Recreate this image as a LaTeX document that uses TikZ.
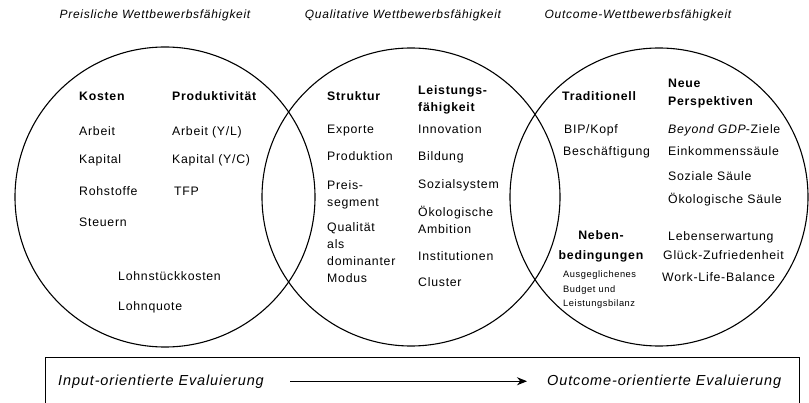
\documentclass[tikz,border=0pt]{standalone}
\usepackage{fontspec}
\setmainfont{Liberation Sans}[LetterSpace=6]
\usetikzlibrary{arrows.meta}

\tikzset{
  ring/.style={draw, line width=1.1pt},
  item/.style={anchor=base west, inner sep=0pt, font=\fontsize{12.3}{17}\selectfont},
  head/.style={item, font=\fontsize{12.3}{17.5}\selectfont\bfseries},
  block/.style={item, anchor=north west, align=left},
  small/.style={item, font=\fontsize{9.3}{14.5}\selectfont},
  title/.style={anchor=base, inner sep=0pt, font=\fontsize{12}{14}\selectfont\itshape},
  evaltext/.style={anchor=base west, inner sep=0pt, font=\fontsize{14.5}{16}\selectfont\itshape},
}

\begin{document}
\begin{tikzpicture}[x=1pt, y=-1pt]
    \useasboundingbox (0,0) rectangle (809,403);

    % circles
    \draw[ring] (165,197) circle [radius=150pt];
    \draw[ring] (411,197) circle [radius=149pt];
    \draw[ring] (659,197) circle [radius=149pt];

    \node (tprice) at (155,19) [title] {Preisliche Wettbewerbsfähigkeit};
    \node (tqual)  at (403,19) [title] {Qualitative Wettbewerbsfähigkeit};
    \node (tout)   at (638,19) [title] {Outcome-Wettbewerbsfähigkeit};

    % price circle
    \node (kosten) at (79,101)  [head] {Kosten};
    \node (prod)   at (172,101) [head] {Produktivität};
    \node (k1) at (79,136) [item] {Arbeit};
    \node (k2) at (79,164) [item] {Kapital};
    \node (k3) at (79,196) [item] {Rohstoffe};
    \node (k4) at (79,227) [item] {Steuern};
    \node (p1) at (172,136) [item] {Arbeit (Y/L)};
    \node (p2) at (172,164) [item] {Kapital (Y/C)};
    \node (p3) at (174,196) [item] {TFP};
    \node (lsk)   at (118,281) [item] {Lohnstückkosten};
    \node (lquot) at (118,311) [item] {Lohnquote};

    % quality circle
    \node (struk) at (327,101) [head] {Struktur};
    \node (leist) at (418,85)  [head, anchor=north west, align=left] {Leistungs-\\fähigkeit};
    \node (s1) at (327,134) [item] {Exporte};
    \node (s2) at (327,161) [item] {Produktion};
    \node (s3) at (327,180) [block] {Preis-\\segment};
    \node (s4) at (327,222) [block] {Qualität\\als\\dominanter\\Modus};
    \node (l1) at (418,134) [item] {Innovation};
    \node (l2) at (418,161) [item] {Bildung};
    \node (l3) at (418,189) [item] {Sozialsystem};
    \node (l4) at (418,206) [block] {Ökologische\\Ambition};
    \node (l5) at (418,261) [item] {Institutionen};
    \node (l6) at (418,287) [item] {Cluster};

    % outcome circle
    \node (trad)  at (562,101) [head] {Traditionell};
    \node (neue)  at (668,79)  [head, anchor=north west, align=left] {Neue\\Perspektiven};
    \node (t1) at (564,134) [item] {BIP/Kopf};
    \node (t2) at (563,156) [item] {Beschäftigung};
    \node (n1) at (668,134) [item] {{\itshape Beyond GDP}-Ziele};
    \node (n2) at (668,156) [item] {Einkommenssäule};
    \node (n3) at (668,181) [item] {Soziale Säule};
    \node (n4) at (668,204) [item] {Ökologische Säule};
    \node (n5) at (668,241) [item] {Lebenserwartung};
    \node (n6) at (663,260) [item] {Glück-Zufriedenheit};
    \node (n7) at (662,282) [item] {Work-Life-Balance};
    \node (neben) at (601,230) [head, anchor=north, align=center, font=\fontsize{12.3}{20}\selectfont\bfseries] {Neben-\\bedingungen};
    \node (nb)    at (563,271) [small, anchor=north west, align=left] {Ausgeglichenes\\Budget und\\Leistungsbilanz};

    % evaluation box
    \draw[line width=0.7pt] (45,357) rectangle (799,403);
    \node (inp)  at (58,385)  [evaltext] {Input-orientierte Evaluierung};
    \node (outp) at (547,385) [evaltext] {Outcome-orientierte Evaluierung};
    \draw[-{Stealth[length=10pt, width=8pt]}, line width=1.1pt, shorten <=26pt, shorten >=20pt]
        (inp.east) -- (outp.west);

\end{tikzpicture}
\end{document}
